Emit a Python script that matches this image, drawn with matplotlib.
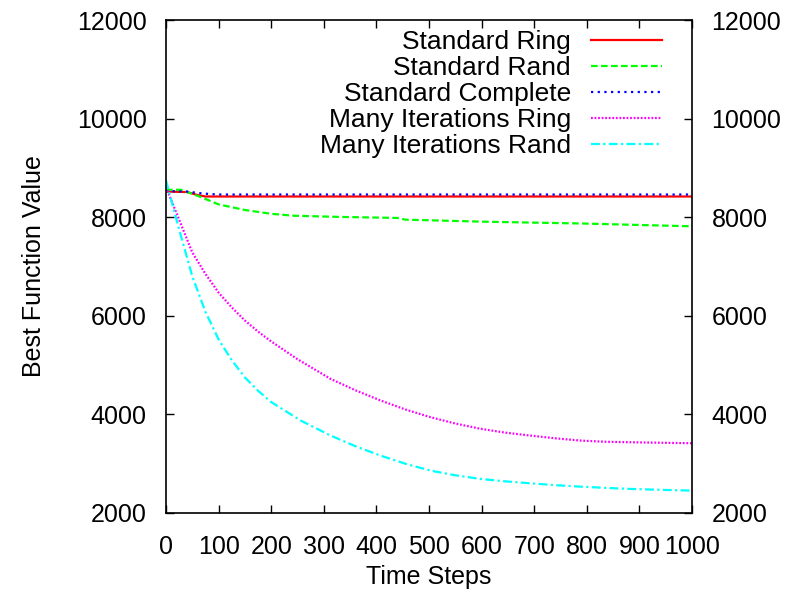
import matplotlib.pyplot as plt
import numpy as np

plt.rcParams['font.family'] = ['Liberation Sans', 'DejaVu Sans']
plt.rcParams['font.size'] = 18

# best function value over time, one series per topology / variant
ring_steps = [0, 40, 60, 75, 150, 300, 500, 700, 1000]
ring_vals = [8520, 8510, 8450, 8420, 8420, 8420, 8420, 8420, 8420]

rand_steps = [0, 29, 67, 100, 150, 200, 243, 332, 440, 455, 600, 800, 1000]
rand_vals = [8556, 8556, 8405, 8260, 8146, 8069, 8030, 8005, 7985, 7950, 7910, 7870, 7815]

comp_steps = [0, 40, 70, 100, 300, 600, 1000]
comp_vals = [8530, 8520, 8480, 8460, 8460, 8460, 8460]

mring_steps = [0, 25, 50, 75, 100, 125, 150, 175, 200, 250, 313,
               360, 408, 455, 503, 550, 598, 645, 693, 740, 788, 835, 883, 940, 1000]
mring_vals = [8610, 7950, 7284, 6850, 6470, 6170, 5905, 5680, 5480, 5120, 4720,
              4490, 4282, 4100, 3943, 3815, 3708, 3630, 3570, 3515, 3469, 3445,
              3435, 3425, 3415]

mrand_steps = [0, 25, 50, 75, 100, 125, 150, 175, 200, 256,
               313, 360, 408, 455, 503, 550, 598, 645, 693, 740, 788, 835, 883, 940, 1000]
mrand_vals = [8744, 7750, 6800, 6080, 5520, 5100, 4750, 4480, 4250, 3876,
              3570, 3355, 3164, 3000, 2860, 2765, 2691, 2642, 2602, 2565, 2535, 2510,
              2488, 2470, 2454]

fig = plt.figure(figsize=(7.91, 5.96), dpi=100)
ax = fig.add_axes([166 / 791, 83 / 596, 526 / 791, 493 / 596])

ax.plot(ring_steps, ring_vals, color='#ff0000', lw=1.6, label='Standard Ring')
ax.plot(rand_steps, rand_vals, color='#00ff00', lw=1.6, ls=(0, (3, 1.5)), label='Standard Rand')
ax.plot(comp_steps, comp_vals, color='#0000ff', lw=1.6, ls=(0, (1, 2)), label='Standard Complete')
ax.plot(mring_steps, mring_vals, color='#ff00ff', lw=1.6, ls=(0, (0.8, 0.8)), label='Many Iterations Ring')
ax.plot(mrand_steps, mrand_vals, color='#00ffff', lw=1.6, ls=(0, (4, 1.5, 1, 1.5)), label='Many Iterations Rand')

ax.set_xlim(0, 1000)
ax.set_ylim(2000, 12000)
ax.set_xticks(np.arange(0, 1001, 100))
ax.set_yticks(np.arange(2000, 12001, 2000))
ax.tick_params(direction='in', top=True, right=True, labelright=True,
               length=6, width=1, pad=14)
ax.tick_params(axis='x', pad=16)
for s in ax.spines.values():
    s.set_linewidth(1.2)

ax.set_xlabel('Time Steps', labelpad=4)
ax.set_ylabel('Best Function Value', labelpad=22)

ax.legend(loc='upper right', bbox_to_anchor=(662 / 791, 566 / 596),
          bbox_transform=fig.transFigure, frameon=False, markerfirst=False,
          handlelength=2.7, labelspacing=0.08, borderpad=0, borderaxespad=0,
          handletextpad=0.75, fontsize=19)

fig.savefig('out.png', dpi=100)
